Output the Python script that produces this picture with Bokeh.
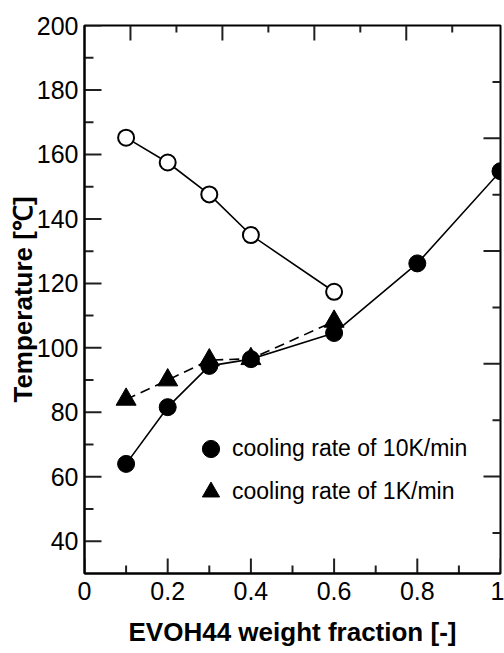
from bokeh.plotting import figure
from bokeh.models import (Range1d, LinearAxis, FixedTicker, Legend, LegendItem)
from bokeh.embed import file_html
from bokeh.resources import INLINE

# ---- data ----
x_open = [0.1, 0.2, 0.3, 0.4, 0.6]
y_open = [165.2, 157.5, 147.6, 135.0, 117.4]

x_10k = [0.1, 0.2, 0.3, 0.4, 0.6, 0.8, 1.0]
y_10k = [64.0, 81.6, 94.4, 96.5, 104.6, 126.2, 154.8]

x_1k = [0.1, 0.2, 0.3, 0.4, 0.6]
y_1k = [84.0, 90.0, 96.2, 96.6, 108.2]

legend_labels = ["cooling rate of 10K/min", "cooling rate of 1K/min"]

x_ticks = [0, 0.2, 0.4, 0.6, 0.8, 1.0]
x_minor = [0.1, 0.3, 0.5, 0.7, 0.9]
x_tick_labels = {0: "0", 0.2: "0.2", 0.4: "0.4", 0.6: "0.6", 0.8: "0.8", 1.0: "1"}
y_ticks = [40, 60, 80, 100, 120, 140, 160, 180, 200]
y_minor = [50, 70, 90, 110, 130, 150, 170, 190]

# top and right frame ticks of the original figure use their own spacing
top_major = [1, 3, 5, 7]
top_minor = [2, 4, 6, 8]
right_major = [2, 4, 6, 8]
right_minor = [1, 3, 5, 7, 9]

FONT = "Liberation Sans"
W, H = 504, 653
BL, BR, BT, BB = 84, 4, 25, 80
X0, X1, Y0, Y1 = 0, 1, 30, 200
TOP0, TOP1 = 0, 9.05
R0, R1 = 0.28, 10

p = figure(width=W, height=H, x_range=Range1d(X0, X1), y_range=Range1d(Y0, Y1),
           output_backend="svg", toolbar_location=None,
           min_border_left=BL, min_border_right=BR, min_border_top=BT, min_border_bottom=BB)
p.xaxis.visible = False
p.yaxis.visible = False
p.grid.visible = False
p.outline_line_color = "black"
p.outline_line_width = 2
p.background_fill_color = "white"
p.border_fill_color = "white"
p.extra_x_ranges = {"top": Range1d(TOP0, TOP1)}
p.extra_y_ranges = {"right": Range1d(R0, R1)}

def style_axis(ax):
    ax.axis_line_width = 2
    ax.axis_line_color = "black"
    ax.major_tick_in = 0
    ax.major_tick_out = 0
    ax.minor_tick_in = 0
    ax.minor_tick_out = 0
    ax.major_label_text_font = FONT
    ax.major_label_text_font_size = "25px"
    ax.major_label_text_color = "black"
    ax.axis_label_text_font = FONT
    ax.axis_label_text_font_style = "bold"
    ax.axis_label_text_font_size = "26px"
    ax.axis_label_text_color = "black"

# bottom axis
xb = LinearAxis(ticker=FixedTicker(ticks=x_ticks, minor_ticks=x_minor),
                axis_label="EVOH44 weight fraction [-]")
style_axis(xb)
xb.major_label_overrides = x_tick_labels
xb.major_label_standoff = 8
xb.axis_label_standoff = 14
p.add_layout(xb, "below")

# left axis
yl = LinearAxis(ticker=FixedTicker(ticks=y_ticks, minor_ticks=y_minor),
                axis_label="Temperature [℃]")
style_axis(yl)
yl.major_label_standoff = 6
yl.axis_label_standoff = -4
p.add_layout(yl, "left")

# inward tick marks drawn from the frame edges
fw = W - BL - BR          # frame width in px
fh = H - BT - BB          # frame height in px
dx = (X1 - X0) / fw       # x data units per px
dy = (Y1 - Y0) / fh       # y data units per px
tick_style = dict(line_color="#202020", line_width=2)

def hticks(ys, base, length, **kw):
    p.multi_line(xs=[[base, base + length * dx] for _ in ys], ys=[[t, t] for t in ys],
                 **tick_style, **kw)

def vticks(xs, base, length, **kw):
    p.multi_line(xs=[[t, t] for t in xs], ys=[[base, base + length * dy] for _ in xs],
                 **tick_style, **kw)

hticks(y_ticks, X0, 17)
hticks(y_minor, X0, 9)
vticks(x_ticks, Y0, 15)
vticks(x_minor, Y0, 8)
vticks(top_major, Y1, -15, x_range_name="top")
vticks(top_minor, Y1, -7, x_range_name="top")
hticks(right_major, X1, -17, y_range_name="right")
hticks(right_minor, X1, -8, y_range_name="right")

# series
p.line(x_open, y_open, line_color="black", line_width=1.6)
p.scatter(x_open, y_open, marker="circle", size=16, fill_color="white",
          line_color="black", line_width=2)

p.line(x_1k, y_1k, line_color="black", line_width=1.6, line_dash="10 6")
r_1k = p.scatter(x_1k, y_1k, marker="triangle", size=20, fill_color="black",
                 line_color="black", line_width=1)

p.line(x_10k, y_10k, line_color="black", line_width=1.6)
r_10k = p.scatter(x_10k, y_10k, marker="circle", size=17, fill_color="black",
                  line_color="black", line_width=1)

legend = Legend(items=[LegendItem(label=legend_labels[0], renderers=[r_10k]),
                       LegendItem(label=legend_labels[1], renderers=[r_1k])],
                location=(105, 60), padding=0, margin=0, spacing=0,
                glyph_width=43, glyph_height=43, label_height=43, label_standoff=0,
                label_text_font=FONT, label_text_font_size="23px", label_text_color="black",
                border_line_color=None, background_fill_alpha=0)
p.add_layout(legend, "center")

open("out.html", "w").write(file_html(p, INLINE))
